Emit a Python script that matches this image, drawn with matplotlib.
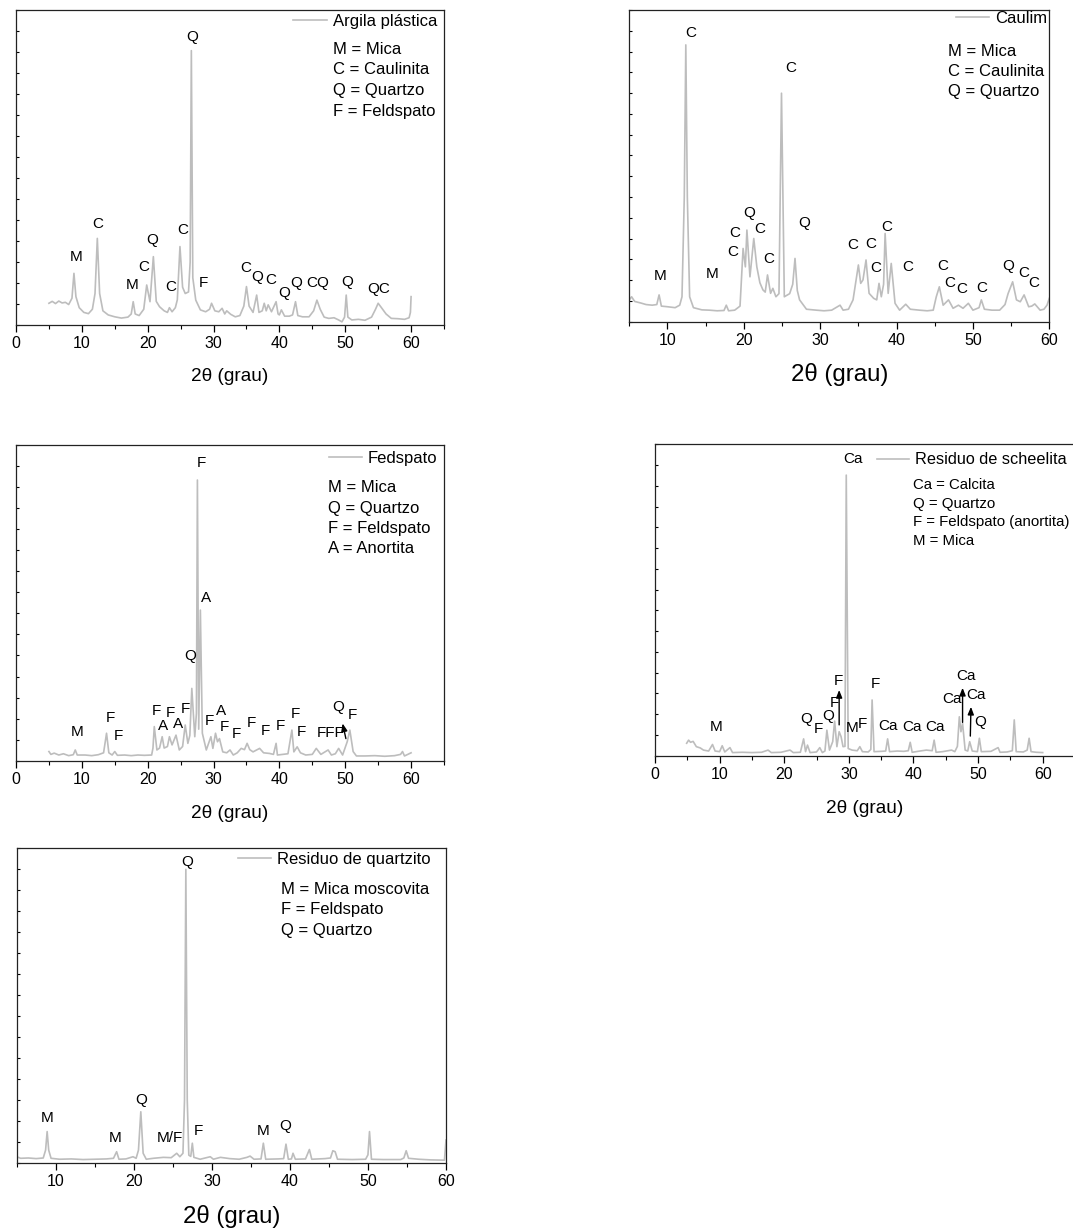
import matplotlib
matplotlib.use('Agg')
import matplotlib.pyplot as plt
from matplotlib.ticker import MultipleLocator, NullFormatter

plt.rcParams['font.family'] = ['Liberation Sans', 'DejaVu Sans']

# ---------------- data: panel 1 (Argila plástica) ----------------
p1_two_theta = [5.0, 5.5, 6.0, 6.5, 7.0, 7.5, 8.0, 8.5, 8.8, 9.1, 9.6, 10.3, 11.0, 11.6, 12.0, 12.35, 12.7,
                13.2, 14.0, 15.0, 16.0, 17.0, 17.5, 17.8, 18.1, 18.7, 19.4, 19.85, 20.35, 20.86, 21.3, 21.8,
                22.5, 23.0, 23.3, 23.7, 24.2, 24.5, 24.9, 25.3, 25.7, 26.2, 26.45, 26.63, 26.85, 27.3, 28.0,
                28.8, 29.4, 29.7, 30.2, 30.8, 31.3, 31.7, 32.0, 32.6, 33.3, 34.0, 34.6, 35.0, 35.4, 36.0,
                36.55, 36.9, 37.4, 37.7, 38.0, 38.3, 38.8, 39.5, 39.8, 40.0, 40.3, 40.8, 41.5, 42.0, 42.45,
                42.8, 43.5, 44.5, 45.2, 45.7, 46.2, 46.8, 47.5, 48.3, 49.0, 49.5, 49.9, 50.15, 50.4, 51.0,
                52.0, 53.0, 54.0, 54.6, 55.0, 55.5, 56.2, 57.0, 58.0, 59.0, 59.7, 59.9, 60.0]
p1_intensity = [6.9, 7.5, 6.8, 7.6, 7.0, 7.2, 6.5, 8.5, 16.4, 9.0, 5.5, 4.0, 3.6, 5.0, 10.0, 27.5, 10.0,
                4.5, 3.2, 2.6, 2.2, 2.5, 3.5, 7.4, 3.5, 3.0, 5.0, 12.7, 7.4, 21.7, 7.5, 5.8,
                4.5, 4.0, 5.5, 4.2, 5.5, 8.0, 24.9, 12.0, 10.0, 10.5, 20.0, 87.1, 15.0, 7.9, 4.8,
                4.2, 5.0, 6.9, 4.5, 4.2, 5.3, 3.5, 4.5, 3.4, 2.6, 3.0, 6.0, 12.2, 6.0, 4.0,
                9.5, 4.0, 4.5, 6.9, 4.5, 6.4, 4.2, 7.4, 3.5, 3.2, 4.8, 2.8, 2.8, 3.2, 7.4,
                3.0, 2.6, 2.6, 4.5, 7.9, 5.0, 2.5, 2.1, 2.3, 1.6, 1.0, 2.5, 9.5, 2.5, 1.6,
                1.8, 1.5, 2.5, 5.0, 6.9, 5.5, 3.5, 2.1, 2.0, 1.8, 2.3, 4.0, 9.0]
p1_peak_text = ['Q', 'C', 'M', 'Q', 'C', 'C', 'M', 'C', 'F', 'C', 'Q', 'C', 'Q', 'Q', 'CQ', 'Q', 'QC']
p1_peak_x = [26.7, 12.35, 9.1, 20.7, 25.3, 19.4, 17.7, 23.5, 28.5, 34.9, 36.6, 38.7, 40.8, 42.5, 45.8, 50.3, 55.1]
p1_peak_y = [91.5, 32.1, 21.5, 27.0, 30.2, 18.5, 12.7, 12.0, 13.2, 18.2, 15.3, 14.3, 10.3, 13.2, 13.2, 13.8, 11.3]
p1_key = ['M = Mica', 'C = Caulinita', 'Q = Quartzo', 'F = Feldspato']
p1_key_y = [87.5, 81.0, 74.4, 67.9]

# ---------------- data: panel 2 (Caulim) ----------------
p2_two_theta = [5.0, 5.3, 5.7, 6.5, 7.2, 8.0, 8.6, 8.9, 9.2, 10.0, 11.0, 11.6, 11.9, 12.2, 12.4, 12.6, 12.9,
                13.4, 14.5, 15.5, 16.5, 17.4, 17.7, 18.0, 18.8, 19.5, 19.9, 20.2, 20.4, 20.8, 21.3, 21.7,
                22.1, 22.5, 22.8, 23.1, 23.5, 23.8, 24.2, 24.6, 24.93, 25.3, 26.0, 26.4, 26.7, 27.0, 27.3,
                28.2, 29.5, 30.5, 31.5, 32.6, 33.0, 33.7, 34.3, 35.0, 35.3, 35.6, 36.0, 36.4, 37.0, 37.4,
                37.7, 38.0, 38.3, 38.5, 38.9, 39.3, 39.8, 40.4, 41.2, 41.8, 43.0, 44.0, 44.8, 45.2, 45.6,
                46.1, 46.8, 47.4, 48.1, 48.7, 49.4, 50.0, 50.8, 51.1, 51.5, 52.5, 53.5, 54.2, 54.6, 55.2,
                55.7, 56.2, 56.7, 57.3, 57.7, 58.1, 58.8, 59.3, 59.7, 60.0]
p2_intensity = [7.0, 8.0, 6.5, 6.0, 5.5, 5.3, 5.5, 8.6, 5.0, 4.8, 4.5, 5.3, 8.0, 40.0, 88.8, 40.0, 8.0,
                4.5, 3.8, 3.7, 3.5, 3.6, 5.3, 3.5, 3.7, 5.0, 23.5, 17.6, 29.4, 14.4, 26.7, 17.6,
                12.5, 10.2, 9.5, 15.0, 9.1, 10.7, 8.0, 9.0, 73.3, 8.0, 9.0, 12.0, 20.3, 10.0, 7.0,
                4.0, 3.7, 3.5, 3.7, 5.3, 3.7, 4.0, 7.0, 18.2, 12.3, 13.4, 19.8, 9.1, 7.5, 7.0,
                12.3, 8.0, 12.0, 28.3, 9.1, 18.7, 5.9, 3.7, 5.6, 4.0, 3.7, 3.5, 3.7, 8.0, 11.2,
                5.3, 7.0, 4.3, 5.3, 4.3, 5.9, 3.7, 4.5, 7.0, 4.0, 3.7, 3.7, 5.5, 9.0, 12.8,
                7.0, 6.4, 8.6, 4.8, 5.0, 5.7, 3.7, 4.0, 5.3, 7.5]
p2_peak_text = ['C', 'C', 'M', 'M', 'C', 'C', 'Q', 'C', 'C', 'Q', 'C', 'C', 'C', 'C', 'C', 'C', 'C', 'C',
                'C', 'Q', 'C', 'C']
p2_peak_x = [13.1, 26.2, 9.1, 15.8, 18.5, 18.8, 20.65, 22.1, 23.3, 27.9, 34.3, 36.6, 37.3, 38.7, 41.4,
             46.0, 46.9, 48.6, 51.1, 54.6, 56.7, 58.0]
p2_peak_y = [92.5, 81.3, 14.7, 15.3, 22.5, 28.3, 35.0, 29.7, 20.0, 31.8, 24.6, 24.9, 17.1, 30.5, 17.6,
             18.0, 12.5, 10.4, 10.7, 18.0, 15.7, 12.5]
p2_key = ['M = Mica', 'C = Caulinita', 'Q = Quartzo']
p2_key_y = [86.8, 80.2, 73.8]

# ---------------- data: panel 3 (Fedspato) ----------------
p3_two_theta = [5.0, 5.3, 5.8, 6.5, 7.2, 8.0, 8.7, 9.0, 9.3, 10.5, 11.5, 12.5, 13.3, 13.75, 14.1, 14.6,
                15.0, 15.4, 16.5, 17.5, 18.5, 19.5, 20.6, 20.8, 21.0, 21.4, 21.8, 22.2, 22.5, 23.0, 23.3,
                23.7, 24.3, 24.8, 25.3, 25.7, 26.1, 26.4, 26.7, 27.15, 27.4, 27.55, 27.75, 28.0, 28.3,
                28.9, 29.6, 29.9, 30.3, 30.6, 30.9, 31.4, 32.0, 32.5, 33.0, 33.6, 34.2, 34.7, 35.1, 35.5,
                36.0, 37.0, 37.6, 38.5, 39.1, 39.5, 39.7, 40.5, 41.3, 41.9, 42.2, 42.7, 43.2, 44.0, 45.0,
                45.6, 46.3, 47.4, 47.9, 48.5, 49.0, 49.6, 50.3, 50.7, 51.2, 51.7, 53.0, 54.5, 56.0, 57.5,
                58.4, 58.7, 59.0, 59.5, 60.0]
p3_intensity = [2.9, 2.0, 2.4, 1.8, 2.2, 1.6, 1.9, 3.4, 1.8, 1.8, 1.6, 1.9, 2.5, 8.7, 2.5, 1.8,
                2.9, 1.7, 1.8, 1.6, 1.8, 1.7, 1.8, 4.0, 10.8, 3.4, 4.0, 7.6, 4.0, 4.5, 7.6,
                5.0, 8.1, 3.4, 4.5, 11.3, 5.5, 8.0, 22.9, 7.6, 15.0, 88.9, 10.0, 47.7, 8.7,
                3.4, 7.6, 3.9, 8.7, 6.0, 7.0, 2.8, 2.5, 3.4, 1.8, 2.5, 3.9, 3.5, 5.5, 3.5,
                2.8, 3.9, 2.5, 2.3, 2.0, 5.5, 1.8, 2.0, 2.2, 9.7, 2.8, 4.4, 2.5, 1.8, 2.0,
                3.9, 2.0, 3.4, 1.8, 2.2, 3.9, 1.8, 6.0, 9.7, 2.9, 1.5, 1.5, 1.6, 1.4, 1.6,
                2.0, 2.9, 1.5, 2.0, 2.5]
p3_peak_text = ['F', 'A', 'Q', 'M', 'F', 'F', 'F', 'A', 'F', 'A', 'F', 'F', 'A', 'F', 'F', 'F', 'F',
                'F', 'F', 'F', 'FFF', 'Q', 'F']
p3_peak_x = [28.2, 28.9, 26.4, 9.3, 14.3, 15.5, 21.3, 22.3, 23.4, 24.6, 25.7, 29.4, 31.2, 31.6, 33.4,
             35.8, 37.9, 40.2, 42.5, 43.3, 47.8, 48.9, 51.1]
p3_peak_y = [94.4, 51.6, 33.2, 9.2, 13.4, 7.8, 15.6, 11.0, 15.0, 11.6, 16.3, 12.7, 15.6, 10.7, 8.4,
             11.8, 9.5, 11.1, 14.7, 9.2, 8.7, 16.9, 14.5]
p3_arrow_from = [(50.1, 7.0)]
p3_arrow_to = [(49.6, 11.8)]
p3_key = ['M = Mica', 'Q = Quartzo', 'F = Feldspato', 'A = Anortita']
p3_key_y = [86.6, 79.9, 73.6, 67.1]

# ---------------- data: panel 4 (Residuo de scheelita) ----------------
p4_two_theta = [4.9, 5.2, 5.5, 5.9, 6.4, 7.0, 7.5, 8.3, 8.9, 9.3, 10.0, 10.4, 10.8, 11.6, 12.0, 13.5, 15.0,
                16.5, 17.5, 18.0, 19.5, 20.9, 21.4, 22.5, 23.0, 23.3, 23.6, 24.0, 25.0, 25.5, 25.9, 26.3,
                26.6, 27.0, 27.5, 27.8, 28.15, 28.5, 28.8, 29.1, 29.4, 29.6, 29.9, 30.5, 31.3, 31.7, 32.1,
                33.0, 33.4, 33.6, 33.9, 35.0, 35.7, 36.0, 36.3, 37.5, 38.5, 39.2, 39.5, 39.8, 41.0, 42.0,
                42.9, 43.2, 43.5, 44.5, 45.9, 46.4, 46.8, 47.1, 47.35, 47.6, 48.0, 48.4, 48.7, 49.1, 49.9,
                50.2, 50.5, 52.0, 53.1, 53.4, 54.5, 55.3, 55.6, 55.9, 57.0, 57.6, 57.9, 58.2, 59.0, 60.0]
p4_intensity = [4.0, 5.0, 4.3, 4.6, 2.9, 2.5, 1.8, 1.5, 3.6, 1.5, 1.3, 3.2, 1.2, 2.6, 1.0, 1.1, 1.0,
                1.1, 1.8, 1.0, 1.1, 1.8, 1.0, 1.1, 5.4, 1.3, 3.4, 1.0, 1.2, 2.6, 1.0, 1.5,
                8.2, 1.8, 4.5, 11.1, 2.9, 7.7, 6.1, 2.9, 3.0, 90.1, 2.3, 1.8, 1.6, 2.9, 1.3,
                1.2, 2.0, 17.9, 1.3, 1.4, 1.5, 5.4, 1.3, 1.5, 1.4, 1.6, 4.3, 1.1, 1.5, 1.8,
                1.6, 5.0, 1.1, 1.3, 1.8, 1.3, 3.0, 12.5, 7.7, 10.4, 1.8, 1.5, 4.5, 1.5, 1.3,
                5.6, 1.3, 1.4, 2.6, 1.1, 1.2, 1.6, 11.5, 1.3, 1.2, 1.8, 5.6, 1.3, 1.1, 1.0]
p4_peak_text = ['Ca', 'M', 'Q', 'F', 'Q', 'F', 'F', 'M', 'F', 'F', 'Ca', 'Ca', 'Ca', 'Ca', 'Ca', 'Ca', 'Q']
p4_peak_x = [30.7, 9.4, 23.4, 25.3, 26.8, 27.8, 28.4, 30.5, 32.1, 34.1, 36.0, 39.7, 43.4, 48.2, 46.0, 49.7, 50.4]
p4_peak_y = [95.3, 9.3, 11.8, 8.6, 12.8, 16.8, 24.1, 9.0, 10.1, 22.9, 9.6, 9.1, 9.3, 25.7, 18.2, 19.5, 10.9]
p4_arrow_from = [(28.5, 9.9), (47.6, 10.7), (48.8, 6.3)]
p4_arrow_to = [(28.5, 21.1), (47.6, 21.8), (48.9, 15.7)]
p4_key = ['Ca = Calcita', 'Q = Quartzo', 'F = Feldspato (anortita)', 'M = Mica']
p4_key_y = [86.9, 80.8, 74.9, 69.0]

# ---------------- data: panel 5 (Residuo de quartzito) ----------------
p5_two_theta = [5.0, 5.5, 6.5, 7.5, 8.4, 8.7, 8.9, 9.1, 9.4, 10.5, 12.0, 13.5, 15.0, 16.5, 17.4, 17.8, 18.1,
                19.0, 19.9, 20.3, 20.6, 20.9, 21.2, 21.6, 22.5, 23.8, 24.8, 25.5, 25.9, 26.3, 26.5, 26.67,
                26.85, 27.05, 27.3, 27.5, 27.7, 28.5, 29.8, 30.2, 31.1, 32.3, 33.5, 34.5, 34.9, 35.4, 36.3,
                36.6, 36.9, 38.5, 39.2, 39.5, 39.8, 40.2, 40.4, 40.7, 42.0, 42.5, 42.8, 44.5, 45.2, 45.5,
                45.8, 46.1, 48.0, 49.7, 50.0, 50.2, 50.45, 52.0, 54.2, 54.6, 54.9, 55.2, 56.5, 58.0, 59.8, 60.0]
p5_intensity = [1.9, 1.4, 1.5, 1.3, 1.5, 4.0, 9.9, 4.0, 1.4, 1.1, 1.2, 1.0, 1.1, 1.2, 1.4, 3.5, 1.1,
                1.2, 1.9, 1.4, 4.0, 16.2, 3.0, 1.1, 1.4, 1.7, 1.6, 3.0, 1.9, 3.0, 20.0, 93.3,
                20.0, 2.4, 2.0, 6.2, 1.7, 1.1, 1.9, 1.1, 1.7, 1.3, 1.1, 1.7, 2.1, 1.1, 1.2,
                6.2, 1.1, 1.2, 1.3, 5.9, 1.1, 1.2, 3.0, 1.1, 1.2, 4.2, 1.1, 1.3, 1.5, 3.8,
                3.5, 1.1, 1.0, 1.1, 2.5, 9.9, 1.1, 1.0, 1.0, 1.5, 3.8, 1.4, 1.1, 0.9, 0.8, 7.2]
p5_peak_text = ['Q', 'M', 'M', 'Q', 'M/F', 'F', 'M', 'Q']
p5_peak_x = [26.8, 8.85, 17.6, 20.9, 24.6, 28.3, 36.6, 39.4]
p5_peak_y = [95.8, 14.1, 8.0, 19.9, 7.7, 10.2, 10.2, 11.7]
p5_key = ['M = Mica moscovita', 'F = Feldspato', 'Q = Quartzo']
p5_key_y = [87.0, 80.4, 73.7]

x_ticks_full = [0, 10, 20, 30, 40, 50, 60]
x_ticks_short = [10, 20, 30, 40, 50, 60]

# ---------------- drawing ----------------
W, H = 1073, 1228
fig = plt.figure(figsize=(W / 100, H / 100), dpi=100)
LINE_COLOR = '#bdbdbd'


def make_axes(left, right, top, bottom):
    return fig.add_axes([left / W, 1 - bottom / H, (right - left) / W, (bottom - top) / H])


def draw_panel(ax, x, y, xlim, xticks, name, leg_anchor, key_lines, key_x, key_y,
               ptext, px, py, label_y, label_size, arrows_from=(), arrows_to=(),
               key_size=12, leg_size=12):
    ax.plot(x, y, color=LINE_COLOR, lw=1.2, label=name)
    ax.set_xlim(*xlim)
    ax.set_ylim(0, 100)
    ax.set_xticks(xticks)
    ax.xaxis.set_minor_locator(MultipleLocator(5))
    ax.yaxis.set_major_locator(MultipleLocator(100 / 15))
    ax.yaxis.set_major_formatter(NullFormatter())
    ax.tick_params(axis='x', which='major', direction='out', length=5, width=0.9, labelsize=11.5, pad=3)
    ax.tick_params(axis='x', which='minor', direction='out', length=3, width=0.8)
    ax.tick_params(axis='y', which='major', direction='in', length=2.5, width=0.8)
    for sp in ax.spines.values():
        sp.set_linewidth(0.9)
        sp.set_color('#222222')
    ax.set_xlabel('2θ (grau)', fontsize=label_size)
    ax.xaxis.set_label_coords(0.5, label_y)
    ax.xaxis.label.set_va('top')
    ax.legend(loc='center left', bbox_to_anchor=leg_anchor, frameon=False, borderpad=0,
              borderaxespad=0, handlelength=2.0, handletextpad=0.35, fontsize=leg_size)
    for t, ky in zip(key_lines, key_y):
        ax.text(key_x, ky, t, fontsize=key_size, ha='left', va='center')
    for t, xx, yy in zip(ptext, px, py):
        ax.text(xx, yy, t, fontsize=11, ha='center', va='center')
    for a, b in zip(arrows_from, arrows_to):
        ax.annotate('', xy=b, xytext=a,
                    arrowprops=dict(arrowstyle='-|>,head_length=0.45,head_width=0.18',
                                    color='black', lw=1.0, shrinkA=0, shrinkB=0))


ax1 = make_axes(16, 444, 10, 325)
draw_panel(ax1, p1_two_theta, p1_intensity, (0, 65), x_ticks_full, 'Argila plástica',
           (0.648, 0.963), p1_key, 48.2, p1_key_y, p1_peak_text, p1_peak_x, p1_peak_y,
           -0.137, 13.7)

ax2 = make_axes(629.3, 1049.3, 10, 321.7)
draw_panel(ax2, p2_two_theta, p2_intensity, (5, 60), x_ticks_short, 'Caulim',
           (0.778, 0.973), p2_key, 46.8, p2_key_y, p2_peak_text, p2_peak_x, p2_peak_y,
           -0.1325, 17.3)

ax3 = make_axes(16, 444, 445, 760.7)
draw_panel(ax3, p3_two_theta, p3_intensity, (0, 65), x_ticks_full, 'Fedspato',
           (0.731, 0.958), p3_key, 47.4, p3_key_y, p3_peak_text, p3_peak_x, p3_peak_y,
           -0.140, 13.7, p3_arrow_from, p3_arrow_to)

ax4 = make_axes(655, 1075, 444.3, 755.7)
draw_panel(ax4, p4_two_theta, p4_intensity, (0, 65), x_ticks_full, 'Residuo de scheelita',
           (0.528, 0.950), p4_key, 40.0, p4_key_y, p4_peak_text, p4_peak_x, p4_peak_y,
           -0.142, 13.7, p4_arrow_from, p4_arrow_to, key_size=10.8, leg_size=11.7)

ax5 = make_axes(16.7, 446, 848.3, 1162.7)
draw_panel(ax5, p5_two_theta, p5_intensity, (5, 60), x_ticks_short, 'Residuo de quartzito',
           (0.515, 0.965), p5_key, 38.9, p5_key_y, p5_peak_text, p5_peak_x, p5_peak_y,
           -0.135, 17.3)

fig.savefig('out.png', dpi=100)
